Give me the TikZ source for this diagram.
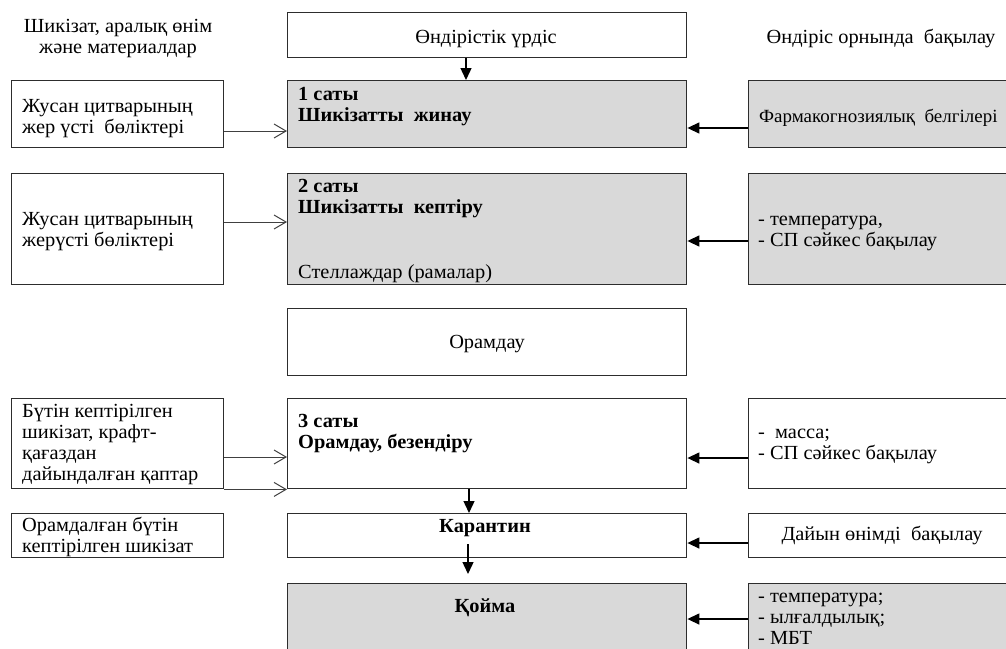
\documentclass[tikz,border=0pt]{standalone}
\usepackage{fontspec}
\setmainfont[FakeStretch=1.02]{Liberation Serif}
\usetikzlibrary{arrows.meta}
\definecolor{boxgray}{RGB}{217,217,217}
\definecolor{edge}{RGB}{45,45,45}
\newcommand\fs{\fontsize{20}{21}\selectfont}
\tikzset{
  box/.style={draw=edge, line width=1.4pt, inner sep=0pt, anchor=north west},
  gbox/.style={box, fill=boxgray},
  txt/.style={inner sep=0pt, font=\fs, text=black},
  ltxt/.style={txt, anchor=base west, align=left},
  ctxt/.style={txt, anchor=base, align=center},
  farr/.style={draw=black, line width=1.4pt, -{Triangle[length=12pt,width=11pt]}},
  oarr/.style={draw=black!75, line width=1pt, -{Straight Barb[length=12pt,width=14pt,line width=1pt]}}
}
\begin{document}
\begin{tikzpicture}[x=1pt,y=-1pt]
\clip (0,0) rectangle (1006,648);
\fill[white] (0,0) rectangle (1006,648);
% boxes
\node[box,  minimum width=399pt, minimum height=45pt]  (topbox) at (287,12) {};
\node[box,  minimum width=212pt, minimum height=67pt]  (l1) at (11,80) {};
\node[gbox, minimum width=399pt, minimum height=67pt]  (c1) at (287,80) {};
\node[gbox, minimum width=275pt, minimum height=67pt]  (r1) at (748,80) {};
\node[box,  minimum width=212pt, minimum height=111pt] (l2) at (11,173) {};
\node[gbox, minimum width=399pt, minimum height=111pt] (c2) at (287,173) {};
\node[gbox, minimum width=275pt, minimum height=111pt] (r2) at (748,173) {};
\node[box,  minimum width=399pt, minimum height=67pt]  (pack) at (287,308) {};
\node[box,  minimum width=212pt, minimum height=90pt]  (l3) at (11,398) {};
\node[box,  minimum width=399pt, minimum height=90pt]  (c3) at (287,398) {};
\node[box,  minimum width=275pt, minimum height=90pt]  (r3) at (748,398) {};
\node[box,  minimum width=212pt, minimum height=44pt]  (l4) at (11,513) {};
\node[box,  minimum width=399pt, minimum height=44pt]  (kar) at (287,513) {};
\node[box,  minimum width=275pt, minimum height=44pt]  (r4) at (748,513) {};
\node[gbox, minimum width=399pt, minimum height=100pt] (qoy) at (287,583) {};
\node[gbox, minimum width=275pt, minimum height=100pt] (r5) at (748,583) {};
% texts (multi-line nodes: coordinate = baseline of last line)
\node[ctxt] (hl) at (118,53) {Шикізат, аралық өнім\\және материалдар};
\node[ctxt] (tt) at (486,43) {Өндірістік үрдіс};
\node[ctxt] (hr) at (881,43) {Өндіріс орнында\ \ бақылау};
\node[ltxt] (l1t) at (22,133) {Жусан цитварының\\жер үсті\ \ бөліктері};
\node[ltxt, font=\fs\bfseries] (c1t) at (298,121) {1 саты\\Шикізатты\ \ жинау};
\node[ltxt, font=\fontsize{18.6}{21}\selectfont] (r1t) at (759,122) {Фармакогнозиялық\ \ белгілері};
\node[ltxt] (l2t) at (22,246) {Жусан цитварының\\жерүсті бөліктері};
\node[ltxt, font=\fs\bfseries] (c2t) at (298,213) {2 саты\\Шикізатты\ \ кептіру};
\node[ltxt] (c2s) at (298,278) {Стеллаждар (рамалар)};
\node[ltxt] (r2t) at (758,246) {- температура,\\- СП сәйкес бақылау};
\node[ctxt] (packt) at (487,348) {Орамдау};
\node[ltxt] (l3t) at (22,480) {Бүтін кептірілген\\шикізат, крафт-\\қағаздан\\дайындалған қаптар};
\node[ltxt, font=\fs\bfseries] (c3t) at (298,448) {3 саты\\Орамдау, безендіру};
\node[ltxt] (r3t) at (758,459) {-\ \ масса;\\- СП сәйкес бақылау};
\node[ltxt] (l4t) at (22,552) {Орамдалған бүтін\\кептірілген шикізат};
\node[ctxt, font=\fs\bfseries] (kart) at (485,532) {Карантин};
\node[ctxt] (r4t) at (882,540) {Дайын өнімді\ \ бақылау};
\node[ctxt, font=\fs\bfseries] (qoyt) at (485,612) {Қойма};
\node[ltxt] (r5t) at (758,644) {- температура;\\- ылғалдылық;\\- МБТ};
% connectors
\draw[farr] (topbox.south -| 466,0) -- (c1.north -| 466,0);
\draw[oarr] (l1.east |- 0,131) -- (c1.west |- 0,131);
\draw[farr] (r1.west |- 0,128) -- (c1.east |- 0,128);
\draw[oarr] (l2.east |- 0,222) -- (c2.west |- 0,222);
\draw[farr] (r2.west |- 0,241) -- (c2.east |- 0,241);
\draw[oarr] (l3.east |- 0,457) -- (c3.west |- 0,457);
\draw[oarr] (l3.south east) -- (c3.south west);
\draw[farr] (r3.west |- 0,458) -- (c3.east |- 0,458);
\draw[farr] (c3.south -| 469,0) -- (kar.north -| 469,0);
\coordinate (kt) at (468,544);
\coordinate (kb) at (468,574);
\draw[farr] (kt) -- (kb);
\draw[farr] (r4.west |- 0,543) -- (kar.east |- 0,543);
\draw[farr] (r5.west |- 0,619) -- (qoy.east |- 0,619);
\end{tikzpicture}
\end{document}
